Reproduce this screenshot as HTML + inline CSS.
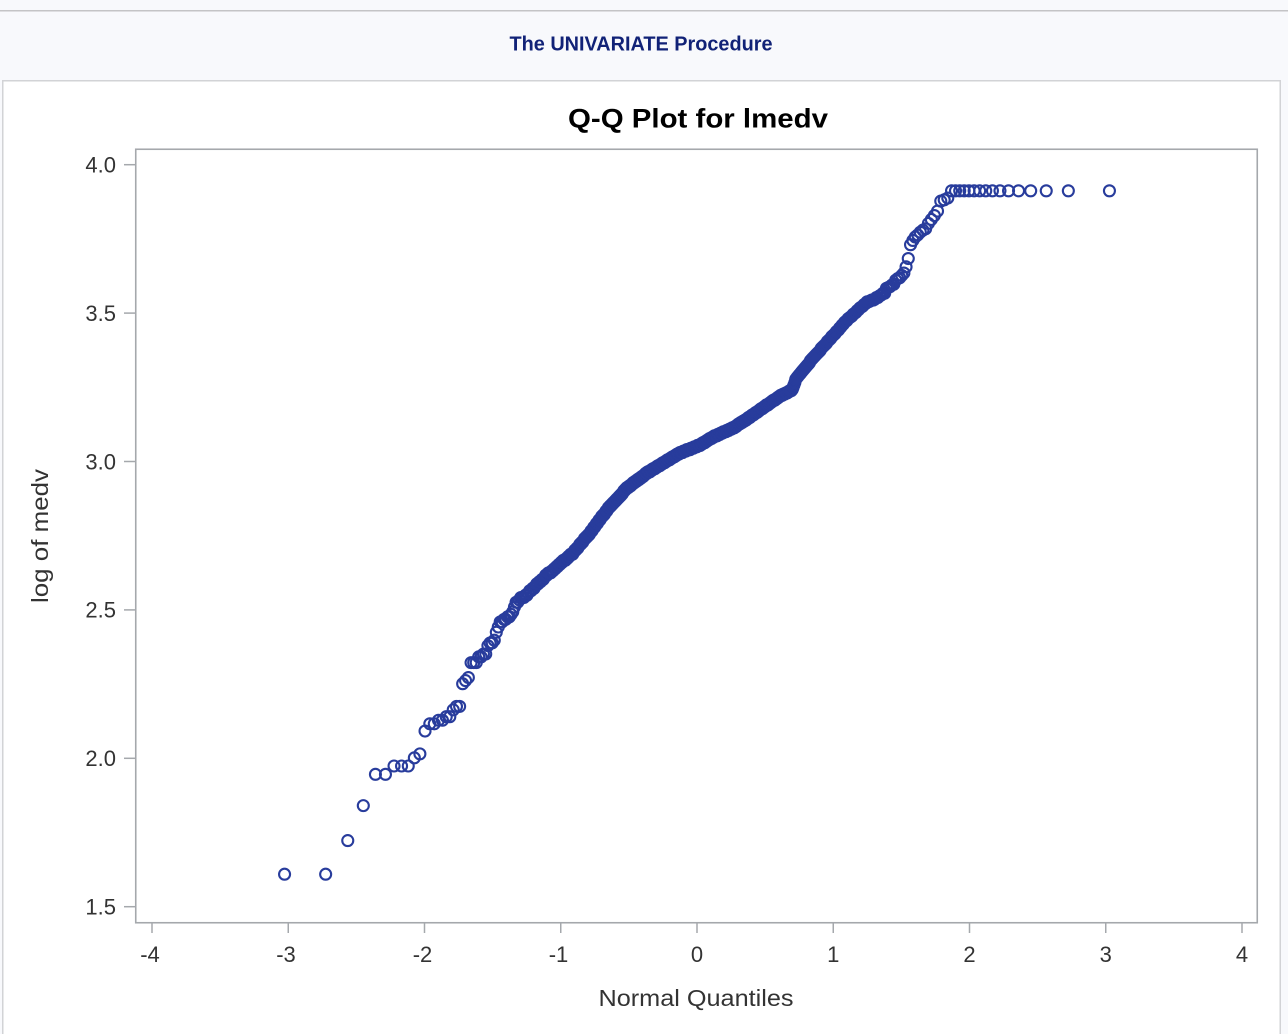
<!DOCTYPE html>
<html>
<head>
<meta charset="utf-8">
<style>
  html,body{margin:0;padding:0;background:#f8f9fc;}
  body{width:1288px;height:1034px;overflow:hidden;}
  svg{display:block;}
  text{font-family:"Liberation Sans",Arial,sans-serif;}
</style>
</head>
<body>
<svg id="chart" width="1288" height="1034" viewBox="0 0 1288 1034" xmlns="http://www.w3.org/2000/svg">
  <rect x="0" y="0" width="1288" height="1034" fill="#f8f9fc"/>
  <line x1="0" y1="10.75" x2="1288" y2="10.75" stroke="#c4c4c6" stroke-width="1.5"/>
  <text x="641" y="50.5" text-anchor="middle" font-size="20" font-weight="bold" fill="#112277" textLength="263" lengthAdjust="spacingAndGlyphs">The UNIVARIATE Procedure</text>

  <!-- white container -->
  <rect x="2.75" y="80.75" width="1277.5" height="1000" fill="#ffffff" stroke="#d2d3d6" stroke-width="1.5"/>

  <!-- title -->
  <text x="698" y="127.5" text-anchor="middle" font-size="27" font-weight="bold" fill="#000" textLength="260" lengthAdjust="spacingAndGlyphs">Q-Q Plot for lmedv</text>

  <!-- frame -->
  <rect x="135.75" y="149.25" width="1121.5" height="773.5" fill="none" stroke="#a5a8ac" stroke-width="1.6"/>

  <!-- y ticks -->
  <g stroke="#a5a8ac" stroke-width="1.5">
    <line x1="124" y1="164.7" x2="135" y2="164.7"/>
    <line x1="124" y1="313.1" x2="135" y2="313.1"/>
    <line x1="124" y1="461.5" x2="135" y2="461.5"/>
    <line x1="124" y1="609.9" x2="135" y2="609.9"/>
    <line x1="124" y1="758.3" x2="135" y2="758.3"/>
    <line x1="124" y1="906.7" x2="135" y2="906.7"/>
  </g>
  <g font-size="22" fill="#333" text-anchor="end">
    <text x="116" y="172.5">4.0</text>
    <text x="116" y="320.9">3.5</text>
    <text x="116" y="469.3">3.0</text>
    <text x="116" y="617.7">2.5</text>
    <text x="116" y="766.1">2.0</text>
    <text x="116" y="914.5">1.5</text>
  </g>

  <!-- x ticks -->
  <g stroke="#a5a8ac" stroke-width="1.5">
    <line x1="152" y1="923" x2="152" y2="933"/>
    <line x1="288.25" y1="923" x2="288.25" y2="933"/>
    <line x1="424.5" y1="923" x2="424.5" y2="933"/>
    <line x1="560.75" y1="923" x2="560.75" y2="933"/>
    <line x1="697" y1="923" x2="697" y2="933"/>
    <line x1="833.25" y1="923" x2="833.25" y2="933"/>
    <line x1="969.5" y1="923" x2="969.5" y2="933"/>
    <line x1="1105.75" y1="923" x2="1105.75" y2="933"/>
    <line x1="1242" y1="923" x2="1242" y2="933"/>
  </g>
  <g font-size="22" fill="#333" text-anchor="middle">
    <text x="150" y="962">-4</text>
    <text x="286" y="962">-3</text>
    <text x="422.5" y="962">-2</text>
    <text x="558.5" y="962">-1</text>
    <text x="697" y="962">0</text>
    <text x="833.25" y="962">1</text>
    <text x="969.5" y="962">2</text>
    <text x="1105.75" y="962">3</text>
    <text x="1242" y="962">4</text>
  </g>

  <!-- axis labels -->
  <text x="696" y="1006" text-anchor="middle" font-size="23" fill="#333" textLength="195" lengthAdjust="spacingAndGlyphs">Normal Quantiles</text>
  <text transform="translate(48,536) rotate(-90)" x="0" y="0" text-anchor="middle" font-size="23" fill="#333" textLength="134" lengthAdjust="spacingAndGlyphs">log of medv</text>

  <g id="pts" fill="none" stroke="#283c9c" stroke-width="2.1"></g>
</svg>
<script>
(function(){
  function ninv(p){
    var a=[-3.969683028665376e+01,2.209460984245205e+02,-2.759285104469687e+02,1.383577518672690e+02,-3.066479806614716e+01,2.506628277459239e+00];
    var b=[-5.447609879822406e+01,1.615858368580409e+02,-1.556989798598866e+02,6.680131188771972e+01,-1.328068155288572e+01];
    var c=[-7.784894002430293e-03,-3.223964580411365e-01,-2.400758277161838e+00,-2.549732539343734e+00,4.374664141464968e+00,2.938163982698783e+00];
    var d=[7.784695709041462e-03,3.224671290700398e-01,2.445134137142996e+00,3.754408661907416e+00];
    var pl=0.02425,q,r;
    if(p<pl){q=Math.sqrt(-2*Math.log(p));return (((((c[0]*q+c[1])*q+c[2])*q+c[3])*q+c[4])*q+c[5])/((((d[0]*q+d[1])*q+d[2])*q+d[3])*q+1);}
    if(p>1-pl){q=Math.sqrt(-2*Math.log(1-p));return -(((((c[0]*q+c[1])*q+c[2])*q+c[3])*q+c[4])*q+c[5])/((((d[0]*q+d[1])*q+d[2])*q+d[3])*q+1);}
    q=p-0.5;r=q*q;return (((((a[0]*r+a[1])*r+a[2])*r+a[3])*r+a[4])*r+a[5])*q/(((((b[0]*r+b[1])*r+b[2])*r+b[3])*r+b[4])*r+1);
  }
  var n=506;
  function X(z){return 697+136.25*z;}
  function Y(v){return 164.7+(4-v)*296.8;}
  var lows=[5.0,5.0,5.6,6.3,7.0,7.0,7.2,7.2,7.2,7.4,7.5,8.1,8.3,8.3,8.4,8.4,8.5,8.5,8.7,8.8,8.8,9.5,9.6,9.7,
    10.2,10.2,10.2,10.4,10.4,10.5,10.5,10.8,10.9,10.9,11.0,11.3,11.5,11.7,11.7,11.8,11.8,11.9,11.9,12.0,12.1,12.3,12.5,12.5,12.6,12.7,12.7,12.7];
  var highs=[34.6,34.7,34.9,34.9,35.1,35.2,35.4,35.4,36.0,36.1,36.2,36.4,36.5,37.0,37.2,37.3,37.6,37.9,38.7,39.8,
    41.7,42.3,42.8,43.1,43.5,43.8,44.0,44.8,45.4,46.0,46.7,48.3,48.5,48.8];
  for(var k=0;k<16;k++) highs.push(50.0);
  var ctrl=[[500,625],[505,620],[525,596],[547,575],[573,553],[590,533],[607,510],[627,488],[647,473],[673,457],
    [680,453],[700,445],[713,437],[733,428],[747,419],[780,396],[792,390],[796,379],[813,358],[847,320],[867,302],[875,299],[900,290]];
  function interp(x){
    if(x<=ctrl[0][0]) return ctrl[0][1];
    for(var i=1;i<ctrl.length;i++){
      if(x<=ctrl[i][0]){
        var t=(x-ctrl[i-1][0])/(ctrl[i][0]-ctrl[i-1][0]);
        return ctrl[i-1][1]+t*(ctrl[i][1]-ctrl[i-1][1]);
      }
    }
    return ctrl[ctrl.length-1][1];
  }
  var g=document.getElementById('pts');
  var ns='http://www.w3.org/2000/svg';
  var hiStart=n-highs.length+1;
  for(var i=1;i<=n;i++){
    var z=ninv((i-0.375)/(n+0.25));
    var x=X(z), y;
    if(i<=lows.length){
      y=Y(Math.log(lows[i-1]));
    } else if(i>=hiStart){
      y=Y(Math.log(highs[i-hiStart]));
    } else {
      var yy=interp(x);
      var v=4-(yy-164.7)/296.8;
      var m=Math.round(Math.exp(v)*10)/10;
      y=Y(Math.log(m));
    }
    var cEl=document.createElementNS(ns,'circle');
    cEl.setAttribute('cx',x.toFixed(2));
    cEl.setAttribute('cy',y.toFixed(2));
    cEl.setAttribute('r','5.5');
    g.appendChild(cEl);
  }
})();
</script>
</body>
</html>
